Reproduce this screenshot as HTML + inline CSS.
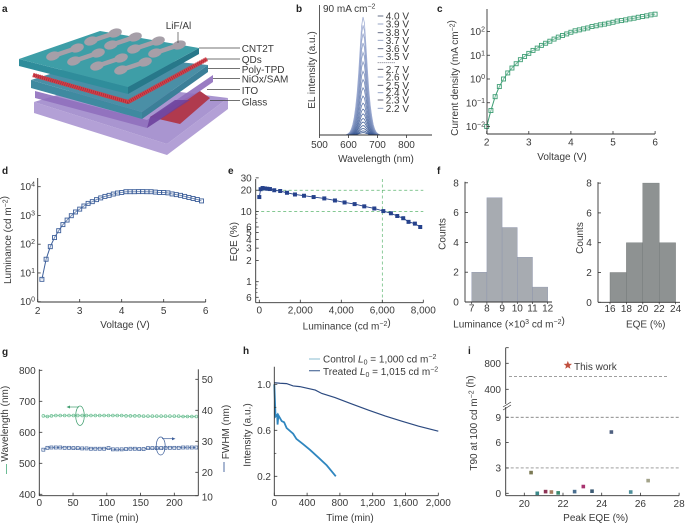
<!DOCTYPE html>
<html lang="en">
<head>
<meta charset="utf-8">
<title>Device structure and performance figure</title>
<style>
html,body{margin:0;padding:0;background:#fff;width:685px;height:523px;overflow:hidden}
svg{display:block;font-family:"Liberation Sans",sans-serif;fill:#3a3a3a}
text{font-size:10px}
.letter{font-weight:bold;font-size:10px;fill:#222}
</style>
</head>
<body>
<svg id="fig" xmlns="http://www.w3.org/2000/svg" width="685" height="523" viewBox="0 0 685 523">
  <g>
    <polygon points="34,102 167,144 228,98 228,109 167,155 34,113" fill="#b3a0d6"/>
    <polygon points="34,102 100,82 228,98 167,144" fill="#a995d0"/>
    <polygon points="150,117 200,91 210,98 180,124" fill="#b03a4e"/>
    <polygon points="35,91 147,120 213,75 213,82 147,128 35,98" fill="#8f6fbc" opacity="0.9"/>
    <polygon points="147,128 150,117 175,100 190,100" fill="#6b3f9b" opacity="0.8"/>
    <polygon points="31,80 110,55 208,65 142,112" fill="#4a8fa6"/>
    <polygon points="31,80 142,112 142,119 31,88" fill="#3f8aa0"/>
    <polygon points="142,112 208,65 208,72 142,119" fill="#3b7f98"/>
    <polyline points="33,75 128,102 207,59" fill="none" stroke="#a82a35" stroke-width="3.5"/>
    <polyline points="33,75 128,102" fill="none" stroke="#d2404a" stroke-width="4.5" stroke-dasharray="1.4 0.7"/>
    <polyline points="128,102 207,59" fill="none" stroke="#d2404a" stroke-width="4.5" stroke-dasharray="1.4 0.7"/>
    <polygon points="19,59 128,87 128,94 19,66" fill="#2f8d9b"/>
    <polygon points="128,87 199,48 199,54 128,94" fill="#27788a"/>
    <polygon points="19,59 100,31 199,48 128,87" fill="#3e9ea7"/>
    <g id="bones"></g>
    <g stroke="#444" stroke-width="0.7">
      <line x1="178" y1="32" x2="178" y2="43"/>
      <line x1="199" y1="48" x2="240" y2="48"/>
      <line x1="207" y1="59" x2="240" y2="59"/>
      <line x1="208" y1="68.500" x2="240" y2="68.500"/>
      <line x1="213" y1="78.500" x2="240" y2="78.500"/>
      <line x1="207" y1="89.500" x2="240" y2="89.500"/>
      <line x1="210" y1="100.500" x2="240" y2="100.500"/>
    </g>
    <text x="165.700" y="29">LiF/Al</text>
    <text x="241.700" y="52">CNT2T</text>
    <text x="241.700" y="63">QDs</text>
    <text x="241.700" y="73">Poly-TPD</text>
    <text x="241.700" y="82.500">NiOx/SAM</text>
    <text x="241.700" y="94">ITO</text>
    <text x="241.700" y="105.500">Glass</text>
  </g>
  <text class="letter" x="2" y="12">a</text>
  <text class="letter" x="296" y="12">b</text>
  <text class="letter" x="437" y="12">c</text>
  <text class="letter" x="2" y="174">d</text>
  <text class="letter" x="228" y="174">e</text>
  <text class="letter" x="437" y="174">f</text>
  <text class="letter" x="2" y="355">g</text>
  <text class="letter" x="243" y="354">h</text>
  <text class="letter" x="468" y="354">i</text>
</svg>
<script>
/* ---------- panel b ---------- */
const bXTicks = [500, 600, 700, 800];
const bWavelengths = [590,595,600,605,610,615,620,625,630,635,640,645,650,655,660,665,670,675,680,685,690,695,700,705,710];
const bLineShape = [0,0.004,0.012,0.025,0.05,0.09,0.15,0.24,0.36,0.52,0.72,0.92,1,0.95,0.76,0.56,0.38,0.25,0.16,0.09,0.05,0.025,0.012,0.004,0];
const bPeakIntensity = [1,0.93,0.86,0.78,0.7,0.62,0.54,0.47,0.4,0.33,0.27,0.22,0.18,0.14,0.11,0.08,0.055,0.035,0.02];
const bLegendUpper = ["4.0 V","3.9 V","3.8 V","3.7 V","3.6 V","3.5 V"];
const bLegendLower = ["2.7 V","2.6 V","2.5 V","2.4 V","2.3 V","2.2 V"];
/* ---------- panel c ---------- */
const cVoltage = [2,2.1,2.2,2.3,2.4,2.5,2.6,2.7,2.8,2.9,3,3.1,3.2,3.3,3.4,3.5,3.6,3.7,3.8,3.9,4,4.1,4.2,4.3,4.4,4.5,4.6,4.7,4.8,4.9,5,5.1,5.2,5.3,5.4,5.5,5.6,5.7,5.8,5.9,6];
const cCurrent = [0.01,0.047,0.18,0.48,1,1.8,2.9,4.4,6.5,8.9,12,16,20,26,32,39,48,58,68,79,93,107,117,129,141,162,174,191,204,224,245,275,288,309,339,363,398,427,457,501,537];
const cYTicks = [2,1,0,-1,-2];
const cXTicks = [2,3,4,5,6];
/* ---------- panel d ---------- */
const dVoltage = [2.1,2.2,2.3,2.4,2.5,2.6,2.7,2.8,2.9,3,3.1,3.2,3.3,3.4,3.5,3.6,3.7,3.8,3.9,4,4.1,4.2,4.3,4.4,4.5,4.6,4.7,4.8,4.9,5,5.1,5.2,5.3,5.4,5.5,5.6,5.7,5.8,5.9];
const dLuminance = [6,30,82,170,295,480,690,980,1320,1660,2130,2630,3020,3550,4070,4600,5000,5560,6030,6300,6700,6700,6700,6750,6750,6700,6700,6500,6300,6300,6100,5600,5300,5000,4600,4200,3900,3600,3200];
const dYTicks = [4,3,2,1,0];
const dXTicks = [2,3,4,5,6];
/* ---------- panel e ---------- */
const eLuminance = [0,65,160,275,390,520,730,1020,1350,1740,2180,2650,3170,3690,4160,4650,5120,5610,6050,6420,6730,7020,7280,7590,7850];
const eEQE = [16,20.7,21.5,21.2,21,20.8,20,19.5,18.4,17.4,16.7,16,15.3,14.3,13.4,12.7,11.8,11,10.1,9.4,8.6,8,7.1,6.7,6];
const eYTicks = [30,20,10,6,5,4,3,2,1,0.6];
const eYTickLabels = ["30","20","10","6","5","4","3","2","1","6"];
const eYMinor = [9,8,7,0.9,0.8,0.7];
const eXTicks = [0,2000,4000,6000,8000];
const eXTickLabels = ["0","2,000","4,000","6,000","8,000"];
const eGuidesEQE = [20,10];
const eGuideLuminance = [6000];
/* ---------- panel f ---------- */
const fLumEdges = [7,8,9,10,11,12];
const fLumCounts = [2,7,5,3,1];
const fEqeEdges = [16,18,20,22,24];
const fEqeCounts = [2,4,8,4];
const fYTicks = [0,2,4,6,8];
/* ---------- panel g ---------- */
const gTime = [6,12,18,24.500,31,37.500,44,50.500,57,63.500,70,76.500,83,89.500,96,102.500,109,115.500,122,128.500,135,141.500,148,154.500,161,167.500,174,180.500,187,193.500,200,206.500,213,219.500,226,232.500];
const gWavelength = [653,651,653,654,654,654,654,654,654,654,654,654,654,654,654,654,654,654,654,653,653,653,653,652,652,652,652,652,652,652,652,652,651,651,651,651];
const gFWHM = [27.3,27.9,28,28,28,27.9,27.9,27.8,27.8,27.7,27.7,27.6,27.6,27.6,27.6,27.8,27.4,27.4,27.4,27.5,27.6,27.6,27.5,27.5,27.8,27.8,27.8,27.8,27.9,27.9,27.9,27.9,28,28,28,28];
const gLeftTicks = [400,500,600,700,800];
const gRightTicks = [50,40,30,20,10];
const gXTicks = [0,50,100,150,200];
/* ---------- panel h ---------- */
const hTreatedTime = [0,70,150,230,310,500,580,740,940,1150,1350,1550,1760,2000];
const hTreatedIntensity = [1.014,1.009,1.006,0.986,0.98,0.95,0.92,0.885,0.83,0.775,0.725,0.68,0.636,0.592];
const hControlTime = [0,15,35,40,50,90,120,150,230,270,350,435,535,640,750];
const hControlIntensity = [1,0.72,0.735,0.65,0.73,0.68,0.67,0.62,0.57,0.525,0.48,0.43,0.365,0.295,0.2];
const hYTicks = [1,0.6,0.2];
const hYMinor = [0.8,0.4];
const hXTicks = [0,400,800,1200,1600,2000];
const hXTickLabels = ["0","400","800","1,200","1,600","2,000"];
/* ---------- panel i ---------- */
const iPeakEQE = [20.35,20.67,21.1,21.4,21.75,22.6,23.05,23.5,24.5,25.5,26.4];
const iT90 = [2.45,0,0.2,0.15,0.05,0.2,0.8,0.25,7.25,0.15,1.5];
const iThisWorkEQE = [22.25];
const iThisWorkT90 = [770];
const iXTicks = [20,22,24,26,28];
const iLowerTicks = [0,3,6,9];
const iUpperTicks = [400,800];
const iLowerGuides = [3,9];
const iUpperGuides = [600];

const NS = "http://www.w3.org/2000/svg";
const fig = document.getElementById("fig");
const INK = "#333";

function el(parent, tag, attrs, name) {
  const e = document.createElementNS(NS, tag);
  for (const k in attrs) e.setAttribute(k, attrs[k]);
  
  
  parent.appendChild(e);
  return e;
}
function group(name) { return el(fig, "g", {}, name); }
function sup(base, s) { return base + '<tspan dy="-3.5" font-size="7">' + s + '</tspan><tspan dy="3.5"> </tspan>'; }
function supEnd(base, s) { return base + '<tspan dy="-3.5" font-size="7">' + s + '</tspan>'; }
function txt(parent, x, y, markup, anchor, name) {
  const t = el(parent, "text", {x: x, y: y, "text-anchor": anchor || "start"}, name);
  t.innerHTML = markup;
  return t;
}
function vtxt(parent, x, y, markup, name) {
  const t = el(parent, "text", {x: x, y: y, "text-anchor": "middle", transform: "rotate(-90 " + x + " " + y + ")"}, name);
  t.innerHTML = markup;
  return t;
}
function line(parent, x1, y1, x2, y2, w, color, name) {
  return el(parent, "line", {x1: x1, y1: y1, x2: x2, y2: y2, stroke: color || INK, "stroke-width": w || 0.8}, name);
}
function path(parent, xs, ys, fx, fy, attrs, name) {
  let d = "";
  xs.forEach((v, i) => { d += (i ? "L" : "M") + fx(v).toFixed(2) + " " + fy(ys[i]).toFixed(2); });
  return el(parent, "path", Object.assign({d: d, fill: "none"}, attrs), name);
}
function squares(parent, xs, ys, fx, fy, size, attrs, name) {
  xs.forEach((v, i) => {
    el(parent, "rect", Object.assign({x: (fx(v) - size / 2).toFixed(2), y: (fy(ys[i]) - size / 2).toFixed(2), width: size, height: size}, attrs), name);
  });
}

/* panel a electrode bones */
(function () {
  const bones = document.getElementById("bones");
  const centers = [[65,52],[86,57],[109,62],[133,66],[103,37],[123,41],[146,45],[167,49]];
  centers.forEach(c => {
    const dx = 12, dy = -4;
    const x1 = c[0] - dx, y1 = c[1] - dy, x2 = c[0] + dx, y2 = c[1] + dy;
    line(bones, x1, y1, x2, y2, 4.5, "#a69fa8", "electrode-neck");
    el(bones, "ellipse", {cx: x1, cy: y1, rx: 7, ry: 4.3, fill: "#a69fa8", transform: "rotate(-17 " + x1 + " " + y1 + ")"}, "electrode-pad");
    el(bones, "ellipse", {cx: x2, cy: y2, rx: 7, ry: 4.3, fill: "#a69fa8", transform: "rotate(-17 " + x2 + " " + y2 + ")"}, "electrode-pad");
  });
})();

/* panel b */
(function () {
  const g = group("panel-b-el-spectra");
  const x = v => 319.5 + (v - 500) * 0.29;
  const y = v => 135 - v * 118;
  const n = bPeakIntensity.length;
  bPeakIntensity.forEach((p, i) => {
    const t = i / (n - 1);
    const r = Math.round(165 - 120 * t), gg = Math.round(178 - 100 * t), b = Math.round(214 - 75 * t);
    path(g, bWavelengths, bLineShape.map(s => s * p), x, y, {stroke: "rgb(" + r + "," + gg + "," + b + ")", "stroke-width": 0.8}, "el-spectrum");
  });
  line(g, 319.5, 5, 319.5, 135, 0.8, INK, "y-axis");
  line(g, 319.5, 135, 432, 135, 1, INK, "x-axis");
  bXTicks.forEach(v => {
    line(g, x(v), 135, x(v), 138, 0.8, INK, "x-tick");
    txt(g, x(v), 148, v, "middle", "x-tick-label");
  });
  txt(g, 376, 162, "Wavelength (nm)", "middle", "x-axis-title");
  vtxt(g, 315, 70, "EL intensity (a.u.)", "y-axis-title");
  txt(g, 323, 12, supEnd("90 mA cm", "−2"), "start", "current-density-label");
  const legendY1 = [16,24,32.7,40.3,48.7,56.700];
  const legendY2 = [69.300,77,85.300,92.700,100,108.300];
  bLegendUpper.forEach((s, i) => {
    line(g, 377.7, legendY1[i], 383.3, legendY1[i], 0.9, i % 2 ? "#8c9cc0" : "#555f7a", "legend-dash");
    txt(g, 385.7, legendY1[i] + 3.5, s, "start", "legend-entry");
  });
  line(g, 377.7, 62.700, 395, 62.700, 0.9, "#667", "legend-ellipsis").setAttribute("stroke-dasharray", "1 1");
  bLegendLower.forEach((s, i) => {
    line(g, 377.7, legendY2[i], 383.3, legendY2[i], 0.9, i % 2 ? "#8c9cc0" : "#556", "legend-dash");
    txt(g, 385.7, legendY2[i] + 3.5, s, "start", "legend-entry");
  });
})();

/* panel c */
(function () {
  const g = group("panel-c-current-density");
  const x = v => 486.7 + (v - 2) * 42.1;
  const y = v => 79 - Math.log10(v) * 23.75;
  path(g, cVoltage, cCurrent, x, y, {stroke: "#3e9e74", "stroke-width": 1}, "current-line");
  squares(g, cVoltage, cCurrent, x, y, 4, {fill: "#fff", "fill-opacity": 0.3, stroke: "#3e9e74", "stroke-width": 0.9}, "current-point");
  line(g, 487, 9, 487, 134, 0.9, INK, "y-axis");
  line(g, 487, 134, 655, 134, 0.9, INK, "x-axis");
  cYTicks.forEach(e => {
    const py = y(Math.pow(10, e));
    line(g, 487, py, 490, py, 0.8, INK, "y-tick");
    txt(g, 485, py + 3.5, supEnd("10", e < 0 ? "−" + (-e) : e), "end", "y-tick-label");
  });
  cXTicks.forEach(v => {
    line(g, x(v), 134, x(v), 131, 0.8, INK, "x-tick");
    txt(g, x(v), 145.500, v, "middle", "x-tick-label");
  });
  txt(g, 562, 160, "Voltage (V)", "middle", "x-axis-title");
  vtxt(g, 458, 78, supEnd("Current density (mA cm", "−2") + ")", "y-axis-title");
})();

/* panel d */
(function () {
  const g = group("panel-d-luminance");
  const x = v => 37.7 + (v - 2) * 42;
  const y = v => 301.7 - Math.log10(v) * 28.75;
  path(g, dVoltage, dLuminance, x, y, {stroke: "#3d5f9a", "stroke-width": 1}, "luminance-line");
  squares(g, dVoltage, dLuminance, x, y, 4, {fill: "#fff", "fill-opacity": 0.3, stroke: "#3d5f9a", "stroke-width": 0.9}, "luminance-point");
  line(g, 37.7, 178, 37.7, 302, 0.9, INK, "y-axis");
  line(g, 37.7, 302, 205.7, 302, 0.9, INK, "x-axis");
  dYTicks.forEach(e => {
    const py = y(Math.pow(10, e));
    line(g, 37.7, py, 40.7, py, 0.8, INK, "y-tick");
    txt(g, 35, py + 3.5, supEnd("10", e), "end", "y-tick-label");
  });
  dXTicks.forEach(v => {
    line(g, x(v), 302, x(v), 299, 0.8, INK, "x-tick");
    txt(g, x(v), 314, v, "middle", "x-tick-label");
  });
  txt(g, 125, 328, "Voltage (V)", "middle", "x-axis-title");
  vtxt(g, 11, 240, supEnd("Luminance (cd m", "−2") + ")", "y-axis-title");
})();

/* panel e */
(function () {
  const g = group("panel-e-eqe");
  const x = v => 259.3 + v * 0.0205;
  const y = v => 281.7 - Math.log10(v) * 70.3;
  eGuidesEQE.forEach(v => {
    line(g, 255.7, y(v), 423.3, y(v), 0.7, "#5cb56f", "eqe-guide").setAttribute("stroke-dasharray", "3 2.500");
  });
  eGuideLuminance.forEach(v => {
    line(g, x(v), 179, x(v), 302.7, 0.7, "#5cb56f", "luminance-guide").setAttribute("stroke-dasharray", "3 2.500");
  });
  path(g, eLuminance, eEQE, x, y, {stroke: "#26428c", "stroke-width": 0.9}, "eqe-line");
  squares(g, eLuminance, eEQE, x, y, 4, {fill: "#26428c"}, "eqe-point");
  line(g, 255.7, 179, 255.7, 302.7, 0.9, INK, "y-axis");
  line(g, 255.7, 302.7, 423.3, 302.7, 0.9, INK, "x-axis");
  eYTicks.forEach((v, i) => {
    line(g, 255.7, y(v), 258.7, y(v), 0.8, INK, "y-tick");
    txt(g, 251.7, y(v) + 3.5, eYTickLabels[i], "end", "y-tick-label");
  });
  eYMinor.forEach(v => { line(g, 255.7, y(v), 257.5, y(v), 0.6, INK, "y-minor-tick"); });
  eXTicks.forEach((v, i) => {
    line(g, x(v), 302.7, x(v), 299.7, 0.8, INK, "x-tick");
    txt(g, x(v), 313.500, eXTickLabels[i], "middle", "x-tick-label");
  });
  txt(g, 346.7, 329.500, supEnd("Luminance (cd m", "−2") + ")", "middle", "x-axis-title");
  vtxt(g, 237, 241.700, "EQE (%)", "y-axis-title");
})();

/* panel f */
function histogram(g, edges, counts, x, axisX, axisEnd, y0, unit, fill, edge) {
  counts.forEach((c, i) => {
    el(g, "rect", {x: x(edges[i]), y: y0 - c * unit, width: x(edges[i + 1]) - x(edges[i]), height: c * unit, fill: fill, stroke: edge, "stroke-width": 0.4}, "histogram-bar");
  });
  line(g, axisX, y0 - 8 * unit - 1, axisX, y0, 0.9, INK, "y-axis");
  line(g, axisX, y0, axisEnd, y0, 0.9, INK, "x-axis");
  fYTicks.forEach(v => {
    line(g, axisX, y0 - v * unit, axisX + 3, y0 - v * unit, 0.8, INK, "y-tick");
    txt(g, axisX - 9, y0 - v * unit + 3.5, v, "middle", "y-tick-label");
  });
  edges.forEach(v => {
    line(g, x(v), y0, x(v), y0 + 2, 0.7, INK, "x-tick");
    txt(g, x(v), y0 + 9.5, v, "middle", "x-tick-label");
  });
}
(function () {
  const g = group("panel-f-luminance-histogram");
  histogram(g, fLumEdges, fLumCounts, v => 471.7 + (v - 7) * 15.2, 465, 552, 302, 14.9, "#a7abb1", "#8a93ad");
  txt(g, 509, 327.500, sup("Luminance (×10", "3") + supEnd("cd m", "−2") + ")", "middle", "x-axis-title");
  vtxt(g, 445.500, 234, "Counts", "y-axis-title");
  const g2 = group("panel-f-eqe-histogram");
  histogram(g2, fEqeEdges, fEqeCounts, v => 610 + (v - 16) * 8.2, 598, 680, 302.300, 14.9, "#8e9292", "#707575");
  txt(g2, 645.7, 327.500, "EQE (%)", "middle", "x-axis-title");
  vtxt(g2, 583, 238, "Counts", "y-axis-title");
})();

/* panel g */
(function () {
  const g = group("panel-g-stability");
  const x = v => 39.3 + v * 0.675;
  const yL = v => 494.3 - (v - 400) * 0.31;
  const yR = v => 379.3 + (50 - v) * 3.1;
  path(g, gTime, gWavelength, x, yL, {stroke: "#4fb380", "stroke-width": 0.7}, "wavelength-line");
  gTime.forEach((t, i) => {
    el(g, "circle", {cx: x(t), cy: yL(gWavelength[i]), r: 1.4, fill: "#fff", "fill-opacity": 0.4, stroke: "#6cbf92", "stroke-width": 0.7}, "wavelength-point");
  });
  path(g, gTime, gFWHM, x, yR, {stroke: "#3d5f9a", "stroke-width": 0.7}, "fwhm-line");
  squares(g, gTime, gFWHM, x, yR, 3, {fill: "#fff", "fill-opacity": 0.4, stroke: "#3d5f9a", "stroke-width": 0.7}, "fwhm-point");
  line(g, 39.3, 369.3, 39.3, 495.7, 0.9, INK, "left-y-axis");
  line(g, 198.3, 369.3, 198.3, 495.7, 0.9, INK, "right-y-axis");
  line(g, 39.3, 495.7, 198.3, 495.7, 0.9, INK, "x-axis");
  gLeftTicks.forEach(v => {
    line(g, 39.3, yL(v), 42.3, yL(v), 0.8, INK, "left-y-tick");
    txt(g, 35.7, yL(v) + 3.5, v, "end", "left-y-tick-label");
  });
  gRightTicks.forEach(v => {
    const py = Math.min(yR(v), 497);
    line(g, 198.3, Math.min(py, 495.7), 195.3, Math.min(py, 495.7), 0.8, INK, "right-y-tick");
    txt(g, 201.7, py + 3.5, v, "start", "right-y-tick-label");
  });
  gXTicks.forEach(v => {
    line(g, x(v), 495.7, x(v), 492.7, 0.8, INK, "x-tick");
    txt(g, x(v), 506, v, "middle", "x-tick-label");
  });
  txt(g, 115, 521, "Time (min)", "middle", "x-axis-title");
  vtxt(g, 8, 423.700, "Wavelength (nm)", "left-y-axis-title");
  line(g, 6.5, 464, 6.5, 474, 0.9, "#5cb58a", "wavelength-key-dash");
  vtxt(g, 229, 432, "FWHM (nm)", "right-y-axis-title");
  line(g, 224, 462, 224, 472, 0.9, "#3d5f9a", "fwhm-key-dash");
  el(g, "ellipse", {cx: 80, cy: 415.7, rx: 4.3, ry: 9.7, fill: "none", stroke: "#3f9e6e", "stroke-width": 0.7}, "wavelength-curve-marker");
  line(g, 79, 407, 68, 407, 0.7, "#3f9e6e", "wavelength-arrow");
  el(g, "polygon", {points: "66.500,407 70,405.500 70,408.500", fill: "#3f9e6e"}, "wavelength-arrowhead");
  el(g, "ellipse", {cx: 160.7, cy: 446, rx: 4.5, ry: 9, fill: "none", stroke: "#3d5f9a", "stroke-width": 0.7}, "fwhm-curve-marker");
  line(g, 162, 438.700, 174, 438.700, 0.7, "#3d5f9a", "fwhm-arrow");
  el(g, "polygon", {points: "175.500,438.700 172,437.200 172,440.200", fill: "#3d5f9a"}, "fwhm-arrowhead");
})();

/* panel h */
(function () {
  const g = group("panel-h-lifetime");
  const x = v => 274.3 + v * 0.082;
  const y = v => 384.3 + (1 - v) * 115;
  path(g, hControlTime, hControlIntensity, x, y, {stroke: "#2f86bf", "stroke-width": 1.8}, "control-line");
  path(g, hTreatedTime, hTreatedIntensity, x, y, {stroke: "#2c4a80", "stroke-width": 1.2}, "treated-line");
  line(g, 274.3, 366.7, 274.3, 495.7, 0.9, INK, "y-axis");
  line(g, 274.3, 495.7, 438.3, 495.7, 0.9, INK, "x-axis");
  hYTicks.forEach(v => {
    line(g, 274.3, y(v), 277.3, y(v), 0.8, INK, "y-tick");
    txt(g, 271, y(v) + 3.5, v.toFixed(1), "end", "y-tick-label");
  });
  hYMinor.forEach(v => { line(g, 274.3, y(v), 276.3, y(v), 0.7, INK, "y-minor-tick"); });
  hXTicks.forEach((v, i) => {
    line(g, x(v), 495.7, x(v), 492.7, 0.8, INK, "x-tick");
    txt(g, x(v), 506, hXTickLabels[i], "middle", "x-tick-label");
  });
  txt(g, 350, 521, "Time (min)", "middle", "x-axis-title");
  vtxt(g, 250.500, 435, "Intensity (a.u.)", "y-axis-title");
  line(g, 309, 359, 320, 359, 1.2, "#9cc7d8", "legend-control-swatch");
  line(g, 309, 370.7, 320, 370.7, 1.2, "#52709c", "legend-treated-swatch");
  txt(g, 323, 362.500, 'Control  <tspan font-style="italic">L</tspan><tspan dy="2" font-size="7">0</tspan><tspan dy="-2"> = 1,000 cd m</tspan><tspan dy="-3.5" font-size="7">−2</tspan>', "start", "legend-control-label");
  txt(g, 323, 375, 'Treated  <tspan font-style="italic">L</tspan><tspan dy="2" font-size="7">0</tspan><tspan dy="-2"> = 1,015 cd m</tspan><tspan dy="-3.5" font-size="7">−2</tspan>', "start", "legend-treated-label");
})();

/* panel i */
(function () {
  const g = group("panel-i-t90");
  const x = v => 524.3 + (v - 20) * 19.35;
  const yLow = v => 493.3 - v * 8.45;
  const yUp = v => 389.3 - (v - 400) * 0.065;
  const dotColors = ["#7b7a55","#3d8a8a","#8d3355","#a57b5f","#3c8a70","#4a6f90","#a8336f","#3d5c75","#4f6080","#4f8f9a","#a3a38a"];
  iLowerGuides.forEach(v => {
    line(g, 505.7, yLow(v), 679, yLow(v), 0.7, "#666", "lower-guide").setAttribute("stroke-dasharray", "3 2");
  });
  iUpperGuides.forEach(v => {
    line(g, 509, yUp(v), 668, yUp(v), 0.7, "#666", "upper-guide").setAttribute("stroke-dasharray", "3 2");
  });
  iPeakEQE.forEach((v, i) => {
    el(g, "rect", {x: x(v) - 1.8, y: yLow(iT90[i]) - 1.8, width: 3.6, height: 3.6, fill: dotColors[i % dotColors.length]}, "literature-point");
  });
  iThisWorkEQE.forEach((v, i) => {
    const cx = x(v), cy = yUp(iThisWorkT90[i]);
    let pts = "";
    for (let k = 0; k < 10; k++) {
      const r = k % 2 ? 1.9 : 4.4, a = -Math.PI / 2 + k * Math.PI / 5;
      pts += (cx + r * Math.cos(a)).toFixed(2) + "," + (cy + r * Math.sin(a)).toFixed(2) + " ";
    }
    el(g, "polygon", {points: pts, fill: "#c0503f"}, "this-work-star");
  });
  txt(g, 574, 370, "This work", "start", "this-work-label");
  line(g, 505.7, 347.7, 505.7, 404, 0.9, INK, "y-axis-upper");
  line(g, 505.7, 407, 505.7, 495.7, 0.9, INK, "y-axis-lower");
  line(g, 505.7, 495.7, 679, 495.7, 0.9, INK, "x-axis");
  line(g, 503, 407, 511, 402, 0.7, INK, "axis-break-mark");
  line(g, 503, 410, 511, 405, 0.7, INK, "axis-break-mark");
  line(g, 505.7, 347.7, 508.7, 347.7, 0.8, INK, "y-axis-cap");
  iLowerTicks.forEach(v => {
    line(g, 505.7, yLow(v), 508.7, yLow(v), 0.8, INK, "lower-y-tick");
    txt(g, 501, yLow(v) + 3.5, v, "end", "lower-y-tick-label");
  });
  iUpperTicks.forEach(v => {
    line(g, 505.7, yUp(v), 508.7, yUp(v), 0.8, INK, "upper-y-tick");
    txt(g, 501, yUp(v) + 3.5, v, "end", "upper-y-tick-label");
  });
  iXTicks.forEach(v => {
    line(g, x(v), 495.7, x(v), 492.7, 0.8, INK, "x-tick");
    txt(g, x(v), 507, v, "middle", "x-tick-label");
  });
  txt(g, 595.7, 521, "Peak EQE (%)", "middle", "x-axis-title");
  vtxt(g, 477, 423, supEnd("T90 at 100 cd m", "−2") + " (h)", "y-axis-title");
})();
</script>
</body>
</html>
